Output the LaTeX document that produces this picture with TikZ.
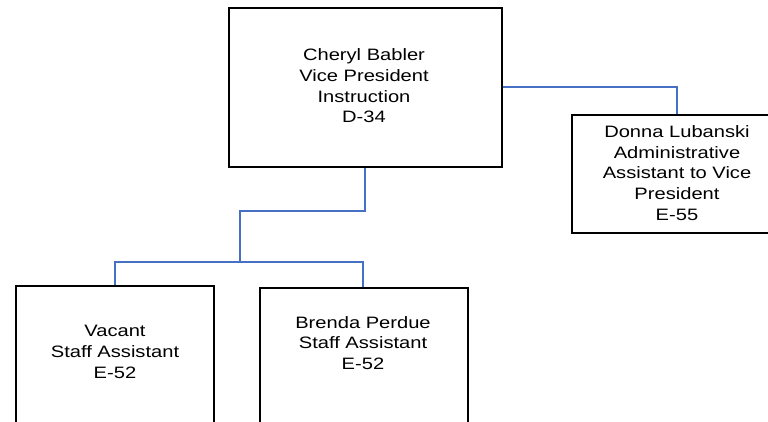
\documentclass[tikz,border=0pt]{standalone}
\usepackage{fontspec}
\setmainfont[FakeStretch=1.22]{Liberation Sans}
\definecolor{linkblue}{RGB}{70,112,196}
\begin{document}
\begin{tikzpicture}[x=1pt,y=-1pt,
  box/.style={draw=black,line width=1.6pt,rectangle,inner sep=0pt},
  lbl/.style={align=center,inner sep=0pt,font=\fontsize{16.5}{20.7}\selectfont},
  link/.style={draw=linkblue,line width=1.3pt}]
\useasboundingbox (0,0) rectangle (768,421);
\clip (0,0) rectangle (768,421);
% boxes
\node[box,anchor=north west,minimum width=273,minimum height=159] (vp) at (228,7) {};
\node[lbl] (vpt) at (364,86) {Cheryl Babler\\Vice President\\Instruction\\D-34};
\node[box,anchor=north west,minimum width=200,minimum height=118] (adm) at (571,114) {};
\node[lbl] (admt) at (677,173) {Donna Lubanski\\Administrative\\Assistant to Vice\\President\\E-55};
\node[box,anchor=north west,minimum width=198,minimum height=200] (vac) at (15,285) {};
\node[lbl] (vact) at (115,352) {Vacant\\Staff Assistant\\E-52};
\node[box,anchor=north west,minimum width=208,minimum height=200] (bp) at (259,287) {};
\node[lbl] (bpt) at (363,343) {Brenda Perdue\\Staff Assistant\\E-52};
% connectors
\coordinate (j1) at (365,211);
\coordinate (j2) at (240,211);
\coordinate (j3) at (240,262);
\draw[link] (vp.east |- 0,87) -| (adm.north -| 677,0);
\draw[link] (vp.south -| j1) -- (j1) -- (j2) -- (j3);
\draw[link] (j3) -| (vac.north -| 115,0);
\draw[link] (j3) -| (bp.north -| 363,0);
\end{tikzpicture}
\end{document}
